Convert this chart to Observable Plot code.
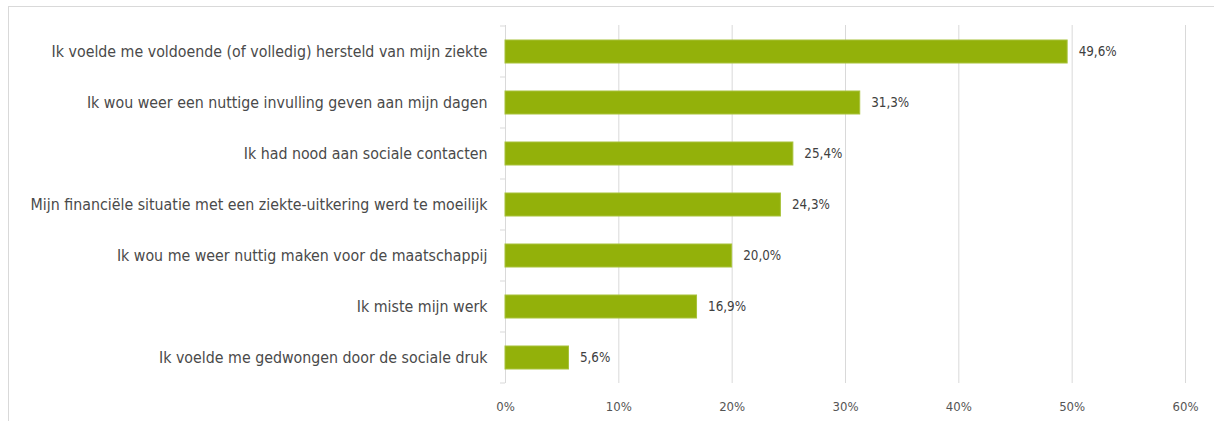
<!DOCTYPE html>
<html><head><meta charset="utf-8">
<script src="https://cdn.jsdelivr.net/npm/d3@7"></script>
<script src="https://cdn.jsdelivr.net/npm/@observablehq/plot@0.6"></script>
<style>
html,body{margin:0;padding:0;background:#fff;}
#wrap{position:relative;width:1214px;height:421px;overflow:hidden;}
#border{position:absolute;left:8px;top:6px;width:1220px;height:430px;border:1px solid #d9d9d9;box-sizing:border-box;}
#chart{position:absolute;left:0;top:0;}
</style></head>
<body>
<div id="wrap"><div id="border"></div><div id="chart"></div></div>
<script>
const categories = [
  "Ik voelde me voldoende (of volledig) hersteld van mijn ziekte",
  "Ik wou weer een nuttige invulling geven aan mijn dagen",
  "Ik had nood aan sociale contacten",
  "Mijn financiële situatie met een ziekte-uitkering werd te moeilijk",
  "Ik wou me weer nuttig maken voor de maatschappij",
  "Ik miste mijn werk",
  "Ik voelde me gedwongen door de sociale druk"
];
const values = [49.6, 31.3, 25.4, 24.3, 20.0, 16.9, 5.6];
const xTicks = [0, 10, 20, 30, 40, 50, 60];

const data = categories.map((c, i) => ({category: c, value: values[i]}));
const fmt = v => v.toFixed(1).replace(".", ",") + "%";
const font = "'DejaVu Sans Condensed', 'Liberation Sans Narrow', sans-serif";

const chart = Plot.plot({
  width: 1214,
  height: 421,
  marginLeft: 505,
  marginRight: 29,
  marginTop: 25,
  marginBottom: 38,
  style: {fontFamily: font, fontSize: "13px", color: "#4a4a4a", background: "transparent"},
  x: {domain: [0, 60], ticks: xTicks, tickFormat: d => d + "%", label: null, tickSize: 0, tickPadding: 18},
  y: {domain: categories, label: null, paddingInner: 0.55, paddingOuter: 0.275},
  marks: [
    Plot.gridX(xTicks.slice(1), {stroke: "#d9d9d9", strokeOpacity: 1}),
    Plot.ruleX([0], {stroke: "#d9d9d9"}),
    Plot.barX(data, {x: "value", y: "category", fill: "#93b10a", stroke: "#a8c23a", strokeWidth: 1}),
    Plot.text(data, {x: "value", y: "category", text: d => fmt(d.value), textAnchor: "start", dx: 11, fill: "#404040", fontSize: 13.3}),
    Plot.axisY({tickSize: 0, tickPadding: 18, fontSize: 15.8, fill: "#4a4a4a"}),
    Plot.axisX({ticks: xTicks, tickFormat: d => d + "%", tickSize: 0, tickPadding: 18, fill: "#555", fontSize: 13})
  ]
});
document.getElementById("chart").appendChild(chart);

// small y-axis ticks at band boundaries, placed through Plot's own scales
const ys = chart.scale("y"), xs = chart.scale("x");
const x0 = xs.apply(0);
const step = ys.step;
const edges = categories.map(c => ys.apply(c) - (step - ys.bandwidth) / 2);
edges.push(edges[edges.length - 1] + step);
d3.select(chart).append("g").attr("stroke", "#d9d9d9")
  .selectAll("line").data(edges).join("line")
  .attr("x1", x0 - 5).attr("x2", x0).attr("y1", d => d).attr("y2", d => d);
</script>
</body></html>
